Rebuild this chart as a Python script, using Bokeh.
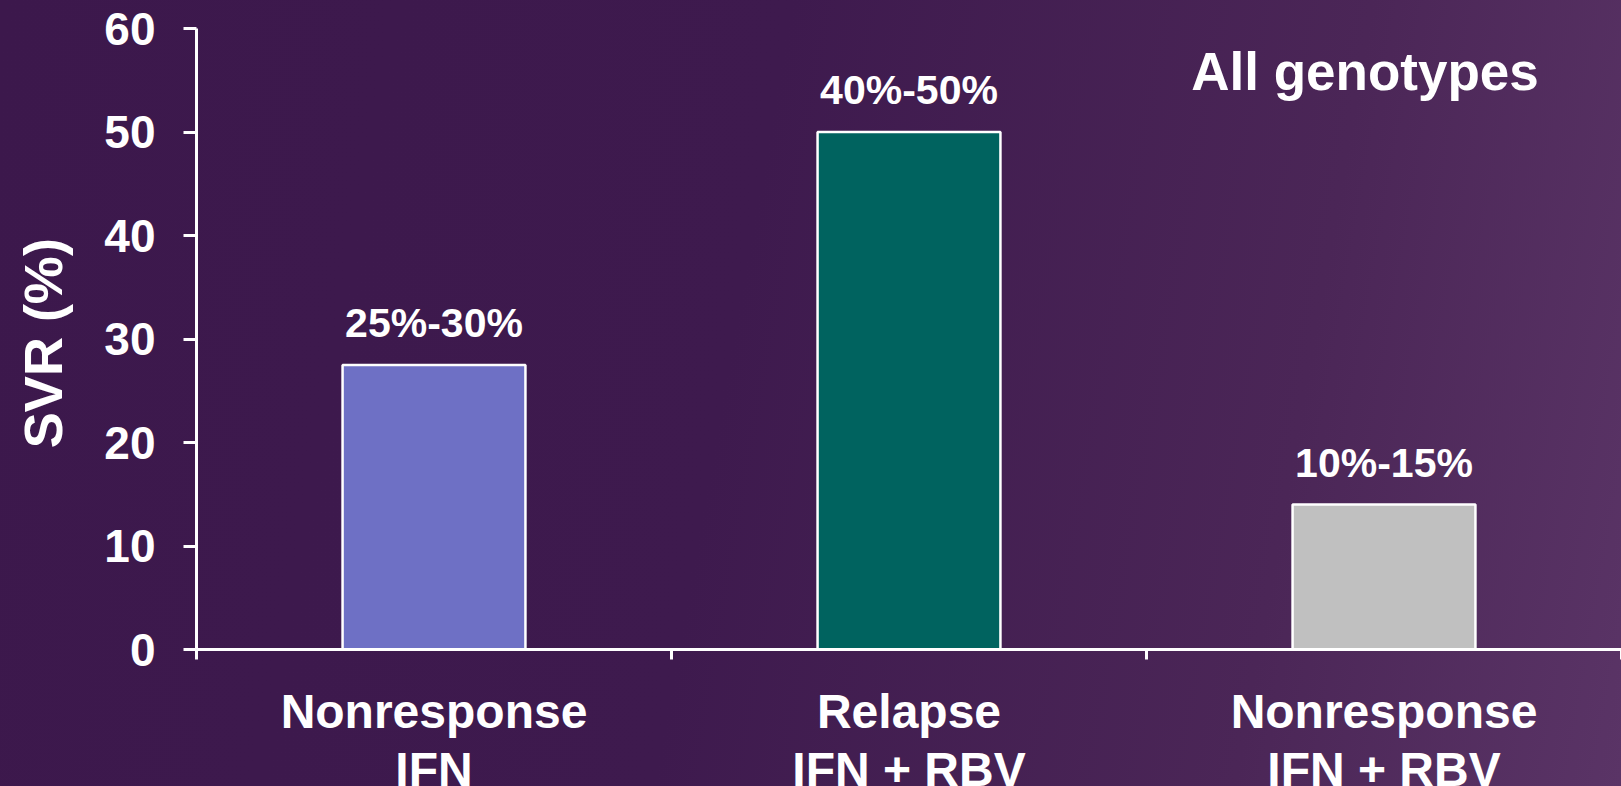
import math
from bokeh.plotting import figure
from bokeh.models import Range1d, FixedTicker, ColumnDataSource, LabelSet, Label
from bokeh.core.properties import value
from bokeh.embed import file_html
from bokeh.resources import INLINE

# ---- data ----
categories = ["Nonresponse\nIFN", "Relapse\nIFN + RBV", "Nonresponse\nIFN + RBV"]
svr_values = [27.5, 50, 14]
range_labels = ["25%-30%", "40%-50%", "10%-15%"]
bar_colors = ["#6e70c5", "#00635f", "#c0c0c0"]
y_ticks = [0, 10, 20, 30, 40, 50, 60]
panel_title = "All genotypes"
y_title = "SVR (%)"

FONT = "Liberation Sans"
WHITE = "#ffffff"

x_pos = [i + 0.5 for i in range(len(categories))]
line1 = [c.split("\n")[0] for c in categories]
line2 = [c.split("\n")[1] for c in categories]
source = ColumnDataSource(dict(x=x_pos, top=svr_values, color=bar_colors,
                               label=range_labels, l1=line1, l2=line2,
                               base=[0] * len(categories)))

# frame covers the whole canvas; axes are pinned at x=0 / y=0
W, H = 1621, 786
PX_X = 475.0      # px per category
PX_Y = 10.35      # px per SVR %
X0, Y0 = 196, 649
p = figure(width=W, height=H,
           x_range=Range1d(-X0 / PX_X, (W - X0) / PX_X),
           y_range=Range1d(-(H - Y0) / PX_Y, Y0 / PX_Y),
           output_backend="svg", toolbar_location=None,
           min_border_left=0, min_border_top=0, min_border_bottom=0,
           min_border_right=0)
p.border_fill_color = None
p.background_fill_color = None
p.outline_line_color = None
p.xgrid.visible = False
p.ygrid.visible = False

p.vbar(x="x", top="top", bottom=0, width=0.385, fill_color="color",
       line_color=WHITE, line_width=2.5, source=source)

# x axis at y = 0, ticks at category boundaries
xa = p.xaxis[0]
xa.fixed_location = 0
xa.bounds = (0, len(categories))
xa.ticker = FixedTicker(ticks=list(range(len(categories) + 1)))
xa.major_label_text_alpha = 0
xa.major_label_text_font_size = "1px"
xa.axis_line_color = WHITE
xa.axis_line_width = 3
xa.major_tick_line_color = WHITE
xa.major_tick_line_width = 3
xa.major_tick_out = 10
xa.major_tick_in = 0
xa.minor_tick_line_color = None

ya = p.yaxis[0]
ya.fixed_location = 0
ya.bounds = (0, 60)
ya.ticker = FixedTicker(ticks=y_ticks)
ya.axis_line_color = WHITE
ya.axis_line_width = 3
ya.major_tick_line_color = WHITE
ya.major_tick_line_width = 3
ya.major_tick_out = 13
ya.major_tick_in = 0
ya.minor_tick_line_color = None
ya.major_label_standoff = 28
ya.major_label_text_font = FONT
ya.major_label_text_font_style = "bold"
ya.major_label_text_font_size = "46px"
ya.major_label_text_color = WHITE

# y axis title
p.text(x=[-0.324], y=[29.6], text=[y_title], angle=math.pi / 2,
       text_align="center", text_baseline="middle",
       text_font=value(FONT), text_font_style="bold",
       text_font_size="54px", text_color=WHITE)

# category labels (two lines) under the axis
p.text(x="x", y="base", text="l1", source=source, y_offset=62,
       text_align="center", text_baseline="alphabetic",
       text_font=value(FONT), text_font_style="bold",
       text_font_size="48px", text_color=WHITE)
p.text(x="x", y="base", text="l2", source=source, y_offset=120,
       text_align="center", text_baseline="alphabetic",
       text_font=value(FONT), text_font_style="bold",
       text_font_size="48px", text_color=WHITE)

# range labels above bars
p.add_layout(LabelSet(x="x", y="top", text="label", source=source,
                      y_offset=28, text_align="center", text_baseline="alphabetic",
                      text_font=value(FONT), text_font_style="bold",
                      text_font_size="41px", text_color=WHITE))

p.add_layout(Label(x=2.46, y=55.8, text=panel_title, text_align="center",
                   text_baseline="alphabetic", text_font=FONT,
                   text_font_style="bold", text_font_size="53px",
                   text_color=WHITE))

html = file_html(p, INLINE, title="SVR by prior response")
style = ("<style>html{height:100%;background:linear-gradient(100deg,"
         "#3c184c 0%,#3e1a4e 45%,#4b2657 78%,#5a3466 100%);}</style>")
html = html.replace("</head>", style + "</head>", 1)
open("out.html", "w").write(html)
